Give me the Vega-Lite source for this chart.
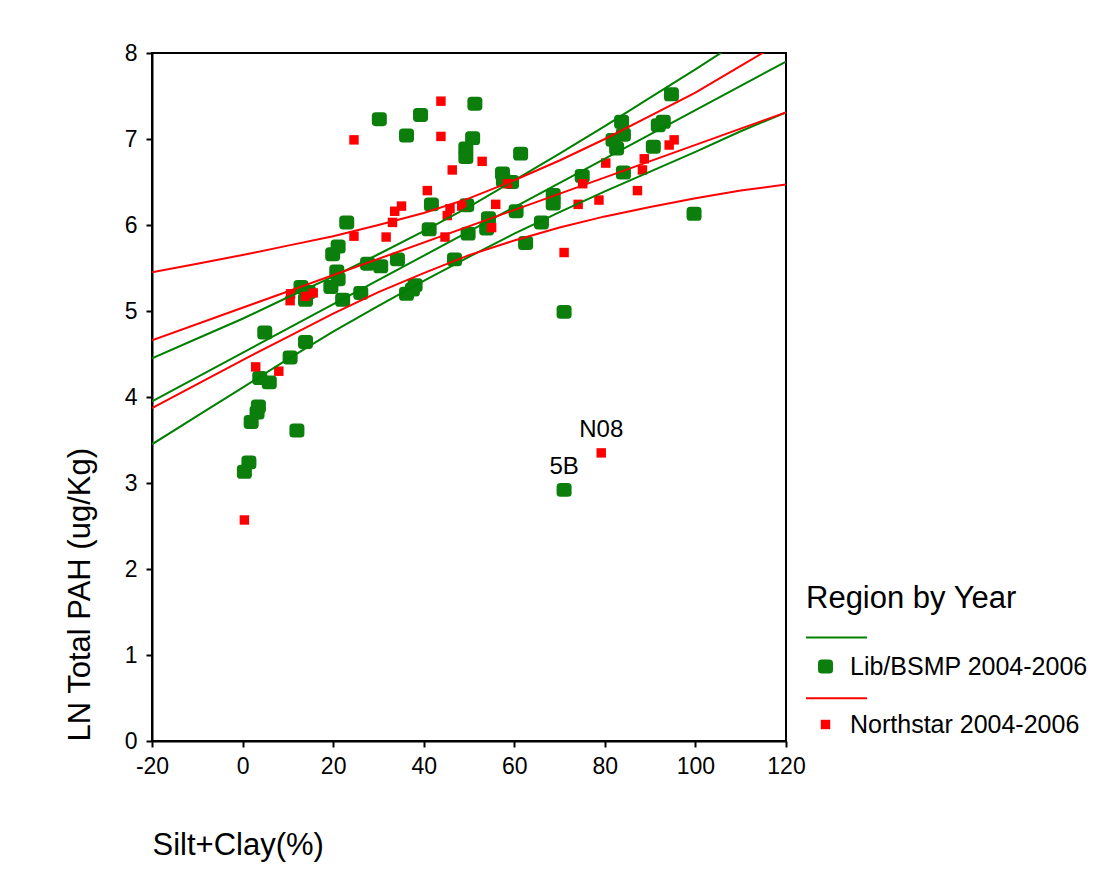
{
  "$schema": "https://vega.github.io/schema/vega-lite/v6.json",
  "width": 634,
  "height": 688,
  "autosize": {"type": "none"},
  "padding": {"left": 152, "top": 53, "right": 309, "bottom": 143},
  "background": "white",
  "config": {
    "font": "Liberation Sans",
    "view": {"stroke": "black", "strokeWidth": 2},
    "axis": {
      "grid": false,
      "domainColor": "black", "domainWidth": 2,
      "tickColor": "black", "tickWidth": 2, "tickSize": 6,
      "labelColor": "black", "labelFont": "Liberation Sans", "labelFontSize": 23,
      "titleColor": "black", "titleFont": "Liberation Sans", "titleFontSize": 31, "titleFontWeight": "normal",
      "labelFlush": false, "labelOverlap": false
    }
  },
  "datasets": {
    "pts": [
      {"group": "Lib/BSMP 2004-2006", "x": 0.4, "y": 3.13},
      {"group": "Lib/BSMP 2004-2006", "x": 1.4, "y": 3.24},
      {"group": "Lib/BSMP 2004-2006", "x": 1.9, "y": 3.71},
      {"group": "Lib/BSMP 2004-2006", "x": 3.2, "y": 3.82},
      {"group": "Lib/BSMP 2004-2006", "x": 3.5, "y": 3.89},
      {"group": "Lib/BSMP 2004-2006", "x": 3.8, "y": 4.22},
      {"group": "Lib/BSMP 2004-2006", "x": 5.9, "y": 4.17},
      {"group": "Lib/BSMP 2004-2006", "x": 4.9, "y": 4.75},
      {"group": "Lib/BSMP 2004-2006", "x": 10.5, "y": 4.46},
      {"group": "Lib/BSMP 2004-2006", "x": 12.0, "y": 3.61},
      {"group": "Lib/BSMP 2004-2006", "x": 13.9, "y": 4.64},
      {"group": "Lib/BSMP 2004-2006", "x": 12.9, "y": 5.28},
      {"group": "Lib/BSMP 2004-2006", "x": 14.5, "y": 5.22},
      {"group": "Lib/BSMP 2004-2006", "x": 13.9, "y": 5.13},
      {"group": "Lib/BSMP 2004-2006", "x": 19.9, "y": 5.66},
      {"group": "Lib/BSMP 2004-2006", "x": 20.8, "y": 5.46},
      {"group": "Lib/BSMP 2004-2006", "x": 21.1, "y": 5.75},
      {"group": "Lib/BSMP 2004-2006", "x": 21.1, "y": 5.37},
      {"group": "Lib/BSMP 2004-2006", "x": 19.5, "y": 5.28},
      {"group": "Lib/BSMP 2004-2006", "x": 22.1, "y": 5.13},
      {"group": "Lib/BSMP 2004-2006", "x": 23.0, "y": 6.03},
      {"group": "Lib/BSMP 2004-2006", "x": 26.1, "y": 5.21},
      {"group": "Lib/BSMP 2004-2006", "x": 27.6, "y": 5.55},
      {"group": "Lib/BSMP 2004-2006", "x": 30.5, "y": 5.52},
      {"group": "Lib/BSMP 2004-2006", "x": 30.2, "y": 7.23},
      {"group": "Lib/BSMP 2004-2006", "x": 34.2, "y": 5.60},
      {"group": "Lib/BSMP 2004-2006", "x": 36.2, "y": 7.04},
      {"group": "Lib/BSMP 2004-2006", "x": 36.2, "y": 5.20},
      {"group": "Lib/BSMP 2004-2006", "x": 37.5, "y": 5.25},
      {"group": "Lib/BSMP 2004-2006", "x": 38.1, "y": 5.30},
      {"group": "Lib/BSMP 2004-2006", "x": 39.3, "y": 7.28},
      {"group": "Lib/BSMP 2004-2006", "x": 41.2, "y": 5.95},
      {"group": "Lib/BSMP 2004-2006", "x": 41.7, "y": 6.24},
      {"group": "Lib/BSMP 2004-2006", "x": 46.8, "y": 5.60},
      {"group": "Lib/BSMP 2004-2006", "x": 49.5, "y": 6.23},
      {"group": "Lib/BSMP 2004-2006", "x": 49.3, "y": 6.89},
      {"group": "Lib/BSMP 2004-2006", "x": 49.3, "y": 6.79},
      {"group": "Lib/BSMP 2004-2006", "x": 49.8, "y": 5.90},
      {"group": "Lib/BSMP 2004-2006", "x": 50.8, "y": 7.01},
      {"group": "Lib/BSMP 2004-2006", "x": 51.3, "y": 7.41},
      {"group": "Lib/BSMP 2004-2006", "x": 54.3, "y": 6.08},
      {"group": "Lib/BSMP 2004-2006", "x": 53.9, "y": 5.96},
      {"group": "Lib/BSMP 2004-2006", "x": 57.4, "y": 6.60},
      {"group": "Lib/BSMP 2004-2006", "x": 57.6, "y": 6.52},
      {"group": "Lib/BSMP 2004-2006", "x": 59.4, "y": 6.50},
      {"group": "Lib/BSMP 2004-2006", "x": 60.4, "y": 6.16},
      {"group": "Lib/BSMP 2004-2006", "x": 61.4, "y": 6.83},
      {"group": "Lib/BSMP 2004-2006", "x": 62.5, "y": 5.79},
      {"group": "Lib/BSMP 2004-2006", "x": 66.0, "y": 6.03},
      {"group": "Lib/BSMP 2004-2006", "x": 68.6, "y": 6.35},
      {"group": "Lib/BSMP 2004-2006", "x": 68.6, "y": 6.25},
      {"group": "Lib/BSMP 2004-2006", "x": 71.0, "y": 4.99},
      {"group": "Lib/BSMP 2004-2006", "x": 71.0, "y": 2.92, "label": "5B"},
      {"group": "Lib/BSMP 2004-2006", "x": 75.0, "y": 6.57},
      {"group": "Lib/BSMP 2004-2006", "x": 81.8, "y": 6.99},
      {"group": "Lib/BSMP 2004-2006", "x": 82.6, "y": 6.89},
      {"group": "Lib/BSMP 2004-2006", "x": 83.7, "y": 7.20},
      {"group": "Lib/BSMP 2004-2006", "x": 84.1, "y": 7.05},
      {"group": "Lib/BSMP 2004-2006", "x": 84.1, "y": 6.61},
      {"group": "Lib/BSMP 2004-2006", "x": 90.7, "y": 6.91},
      {"group": "Lib/BSMP 2004-2006", "x": 91.8, "y": 7.16},
      {"group": "Lib/BSMP 2004-2006", "x": 92.9, "y": 7.20},
      {"group": "Lib/BSMP 2004-2006", "x": 94.7, "y": 7.52},
      {"group": "Lib/BSMP 2004-2006", "x": 99.7, "y": 6.13},
      {"group": "Northstar 2004-2006", "x": 0.4, "y": 2.57},
      {"group": "Northstar 2004-2006", "x": 2.9, "y": 4.35},
      {"group": "Northstar 2004-2006", "x": 8.0, "y": 4.30},
      {"group": "Northstar 2004-2006", "x": 10.6, "y": 5.20},
      {"group": "Northstar 2004-2006", "x": 10.5, "y": 5.12},
      {"group": "Northstar 2004-2006", "x": 13.9, "y": 5.17},
      {"group": "Northstar 2004-2006", "x": 15.6, "y": 5.21},
      {"group": "Northstar 2004-2006", "x": 24.6, "y": 6.99},
      {"group": "Northstar 2004-2006", "x": 24.6, "y": 5.87},
      {"group": "Northstar 2004-2006", "x": 31.7, "y": 5.86},
      {"group": "Northstar 2004-2006", "x": 33.1, "y": 6.03},
      {"group": "Northstar 2004-2006", "x": 33.6, "y": 6.16},
      {"group": "Northstar 2004-2006", "x": 35.1, "y": 6.22},
      {"group": "Northstar 2004-2006", "x": 40.8, "y": 6.40},
      {"group": "Northstar 2004-2006", "x": 43.8, "y": 7.44},
      {"group": "Northstar 2004-2006", "x": 43.8, "y": 7.03},
      {"group": "Northstar 2004-2006", "x": 44.7, "y": 5.86},
      {"group": "Northstar 2004-2006", "x": 45.2, "y": 6.11},
      {"group": "Northstar 2004-2006", "x": 45.8, "y": 6.19},
      {"group": "Northstar 2004-2006", "x": 46.3, "y": 6.64},
      {"group": "Northstar 2004-2006", "x": 48.4, "y": 6.22},
      {"group": "Northstar 2004-2006", "x": 52.9, "y": 6.74},
      {"group": "Northstar 2004-2006", "x": 55.0, "y": 5.97},
      {"group": "Northstar 2004-2006", "x": 55.9, "y": 6.24},
      {"group": "Northstar 2004-2006", "x": 58.5, "y": 6.48},
      {"group": "Northstar 2004-2006", "x": 71.0, "y": 5.68},
      {"group": "Northstar 2004-2006", "x": 74.1, "y": 6.24},
      {"group": "Northstar 2004-2006", "x": 75.1, "y": 6.48},
      {"group": "Northstar 2004-2006", "x": 78.7, "y": 6.29},
      {"group": "Northstar 2004-2006", "x": 79.2, "y": 3.35, "label": "N08"},
      {"group": "Northstar 2004-2006", "x": 80.2, "y": 6.72},
      {"group": "Northstar 2004-2006", "x": 87.2, "y": 6.40},
      {"group": "Northstar 2004-2006", "x": 88.3, "y": 6.64},
      {"group": "Northstar 2004-2006", "x": 88.7, "y": 6.77},
      {"group": "Northstar 2004-2006", "x": 94.2, "y": 6.93},
      {"group": "Northstar 2004-2006", "x": 95.3, "y": 6.99}
    ],
    "fits": [
      {"group": "Lib/BSMP 2004-2006", "band": "upper", "x": -20, "y": 4.45},
      {"group": "Lib/BSMP 2004-2006", "band": "upper", "x": -10, "y": 4.68},
      {"group": "Lib/BSMP 2004-2006", "band": "upper", "x": 0, "y": 4.91},
      {"group": "Lib/BSMP 2004-2006", "band": "upper", "x": 10, "y": 5.16},
      {"group": "Lib/BSMP 2004-2006", "band": "upper", "x": 20, "y": 5.40},
      {"group": "Lib/BSMP 2004-2006", "band": "upper", "x": 30, "y": 5.66},
      {"group": "Lib/BSMP 2004-2006", "band": "upper", "x": 40, "y": 5.93},
      {"group": "Lib/BSMP 2004-2006", "band": "upper", "x": 50, "y": 6.21},
      {"group": "Lib/BSMP 2004-2006", "band": "upper", "x": 60, "y": 6.52},
      {"group": "Lib/BSMP 2004-2006", "band": "upper", "x": 70, "y": 6.83},
      {"group": "Lib/BSMP 2004-2006", "band": "upper", "x": 80, "y": 7.15},
      {"group": "Lib/BSMP 2004-2006", "band": "upper", "x": 90, "y": 7.48},
      {"group": "Lib/BSMP 2004-2006", "band": "upper", "x": 100, "y": 7.81},
      {"group": "Lib/BSMP 2004-2006", "band": "upper", "x": 110, "y": 8.15},
      {"group": "Lib/BSMP 2004-2006", "band": "upper", "x": 120, "y": 8.49},
      {"group": "Lib/BSMP 2004-2006", "band": "center", "x": -20, "y": 3.95},
      {"group": "Lib/BSMP 2004-2006", "band": "center", "x": 120, "y": 7.90},
      {"group": "Lib/BSMP 2004-2006", "band": "lower", "x": -20, "y": 3.45},
      {"group": "Lib/BSMP 2004-2006", "band": "lower", "x": -10, "y": 3.78},
      {"group": "Lib/BSMP 2004-2006", "band": "lower", "x": 0, "y": 4.11},
      {"group": "Lib/BSMP 2004-2006", "band": "lower", "x": 10, "y": 4.44},
      {"group": "Lib/BSMP 2004-2006", "band": "lower", "x": 20, "y": 4.76},
      {"group": "Lib/BSMP 2004-2006", "band": "lower", "x": 30, "y": 5.06},
      {"group": "Lib/BSMP 2004-2006", "band": "lower", "x": 40, "y": 5.35},
      {"group": "Lib/BSMP 2004-2006", "band": "lower", "x": 50, "y": 5.63},
      {"group": "Lib/BSMP 2004-2006", "band": "lower", "x": 60, "y": 5.90},
      {"group": "Lib/BSMP 2004-2006", "band": "lower", "x": 70, "y": 6.15},
      {"group": "Lib/BSMP 2004-2006", "band": "lower", "x": 80, "y": 6.39},
      {"group": "Lib/BSMP 2004-2006", "band": "lower", "x": 90, "y": 6.62},
      {"group": "Lib/BSMP 2004-2006", "band": "lower", "x": 100, "y": 6.85},
      {"group": "Lib/BSMP 2004-2006", "band": "lower", "x": 110, "y": 7.09},
      {"group": "Lib/BSMP 2004-2006", "band": "lower", "x": 120, "y": 7.31},
      {"group": "Northstar 2004-2006", "band": "upper", "x": -20, "y": 5.45},
      {"group": "Northstar 2004-2006", "band": "upper", "x": -10, "y": 5.55},
      {"group": "Northstar 2004-2006", "band": "upper", "x": 0, "y": 5.65},
      {"group": "Northstar 2004-2006", "band": "upper", "x": 10, "y": 5.76},
      {"group": "Northstar 2004-2006", "band": "upper", "x": 20, "y": 5.87},
      {"group": "Northstar 2004-2006", "band": "upper", "x": 30, "y": 6.00},
      {"group": "Northstar 2004-2006", "band": "upper", "x": 40, "y": 6.14},
      {"group": "Northstar 2004-2006", "band": "upper", "x": 50, "y": 6.31},
      {"group": "Northstar 2004-2006", "band": "upper", "x": 60, "y": 6.52},
      {"group": "Northstar 2004-2006", "band": "upper", "x": 70, "y": 6.75},
      {"group": "Northstar 2004-2006", "band": "upper", "x": 80, "y": 7.00},
      {"group": "Northstar 2004-2006", "band": "upper", "x": 90, "y": 7.27},
      {"group": "Northstar 2004-2006", "band": "upper", "x": 100, "y": 7.54},
      {"group": "Northstar 2004-2006", "band": "upper", "x": 110, "y": 7.85},
      {"group": "Northstar 2004-2006", "band": "upper", "x": 120, "y": 8.16},
      {"group": "Northstar 2004-2006", "band": "center", "x": -20, "y": 4.66},
      {"group": "Northstar 2004-2006", "band": "center", "x": 120, "y": 7.31},
      {"group": "Northstar 2004-2006", "band": "lower", "x": -20, "y": 3.87},
      {"group": "Northstar 2004-2006", "band": "lower", "x": -10, "y": 4.15},
      {"group": "Northstar 2004-2006", "band": "lower", "x": 0, "y": 4.43},
      {"group": "Northstar 2004-2006", "band": "lower", "x": 10, "y": 4.70},
      {"group": "Northstar 2004-2006", "band": "lower", "x": 20, "y": 4.97},
      {"group": "Northstar 2004-2006", "band": "lower", "x": 30, "y": 5.22},
      {"group": "Northstar 2004-2006", "band": "lower", "x": 40, "y": 5.44},
      {"group": "Northstar 2004-2006", "band": "lower", "x": 50, "y": 5.65},
      {"group": "Northstar 2004-2006", "band": "lower", "x": 60, "y": 5.82},
      {"group": "Northstar 2004-2006", "band": "lower", "x": 70, "y": 5.97},
      {"group": "Northstar 2004-2006", "band": "lower", "x": 80, "y": 6.10},
      {"group": "Northstar 2004-2006", "band": "lower", "x": 90, "y": 6.21},
      {"group": "Northstar 2004-2006", "band": "lower", "x": 100, "y": 6.31},
      {"group": "Northstar 2004-2006", "band": "lower", "x": 110, "y": 6.40},
      {"group": "Northstar 2004-2006", "band": "lower", "x": 120, "y": 6.47}
    ]
  },
  "layer": [
    {
      "data": {"name": "pts"},
      "mark": {"type": "point", "filled": true, "opacity": 1, "strokeWidth": 0, "size": 225},
      "encoding": {
        "x": {
          "field": "x", "type": "quantitative",
          "scale": {"domain": [-20, 120], "nice": false, "zero": false},
          "axis": {"values": [-20, 0, 20, 40, 60, 80, 100, 120], "labelExpr": "'' + datum.value", "title": "Silt+Clay(%)", "titleAnchor": "start", "titleAlign": "left", "titlePadding": 52, "labelPadding": 8}
        },
        "y": {
          "field": "y", "type": "quantitative",
          "scale": {"domain": [0, 8], "nice": false, "zero": false},
          "axis": {"values": [0, 1, 2, 3, 4, 5, 6, 7, 8], "labelExpr": "'' + datum.value", "title": "LN Total PAH (ug/Kg)", "titleAnchor": "start", "titlePadding": 28, "labelPadding": 9}
        },
        "fill": {
          "field": "group", "type": "nominal",
          "scale": {
            "domain": ["_line1", "Lib/BSMP 2004-2006", "_line2", "Northstar 2004-2006"],
            "range": ["#008000", "#0b7e0b", "#ff0000", "#ff0000"]
          },
          "legend": {
            "title": "Region by Year",
            "orient": "none", "legendX": 654, "legendY": 531,
            "padding": 0,
            "titleFontSize": 31, "titleFontWeight": "normal", "titleColor": "black", "titleFont": "Liberation Sans", "titlePadding": 10, "titleLimit": 400,
            "labelFontSize": 25, "labelColor": "black", "labelFont": "Liberation Sans", "labelOffset": 12,
            "labelExpr": "indexof(datum.value, '_') === 0 ? '' : datum.label",
            "symbolSize": 225, "symbolOffset": 7, "symbolStrokeWidth": 0, "symbolOpacity": 1,
            "rowPadding": 3, "labelLimit": 400
          }
        },
        "shape": {
          "field": "group", "type": "nominal",
          "scale": {
            "domain": ["_line1", "Lib/BSMP 2004-2006", "_line2", "Northstar 2004-2006"],
            "range": [
              "M-2.6,-0.13H5.53V0.13H-2.6Z",
              "M-1,-0.45Q-1,-0.93 -0.5,-0.93H0.5Q1,-0.93 1,-0.45V0.45Q1,0.93 0.5,0.93H-0.5Q-1,0.93 -1,0.45Z",
              "M-2.6,0.24H5.53V0.5H-2.6Z",
              "M-0.63,-0.63H0.63V0.63H-0.63Z"
            ]
          },
          "legend": {"title": "Region by Year"}
        }
      }
    },
    {
      "data": {"name": "fits"},
      "mark": {"type": "line", "strokeWidth": 2, "clip": true},
      "encoding": {
        "x": {"field": "x", "type": "quantitative"},
        "y": {"field": "y", "type": "quantitative"},
        "detail": {"field": "band", "type": "nominal"},
        "stroke": {
          "field": "group", "type": "nominal",
          "scale": {"domain": ["Lib/BSMP 2004-2006", "Northstar 2004-2006"], "range": ["#008000", "#ff0000"]},
          "legend": null
        }
      }
    },
    {
      "data": {"name": "pts"},
      "transform": [{"filter": "datum.label != null"}],
      "mark": {"type": "text", "fontSize": 24, "font": "Liberation Sans", "color": "black", "dy": -23, "baseline": "middle", "align": "center"},
      "encoding": {
        "x": {"field": "x", "type": "quantitative"},
        "y": {"field": "y", "type": "quantitative"},
        "text": {"field": "label", "type": "nominal"}
      }
    }
  ]
}
